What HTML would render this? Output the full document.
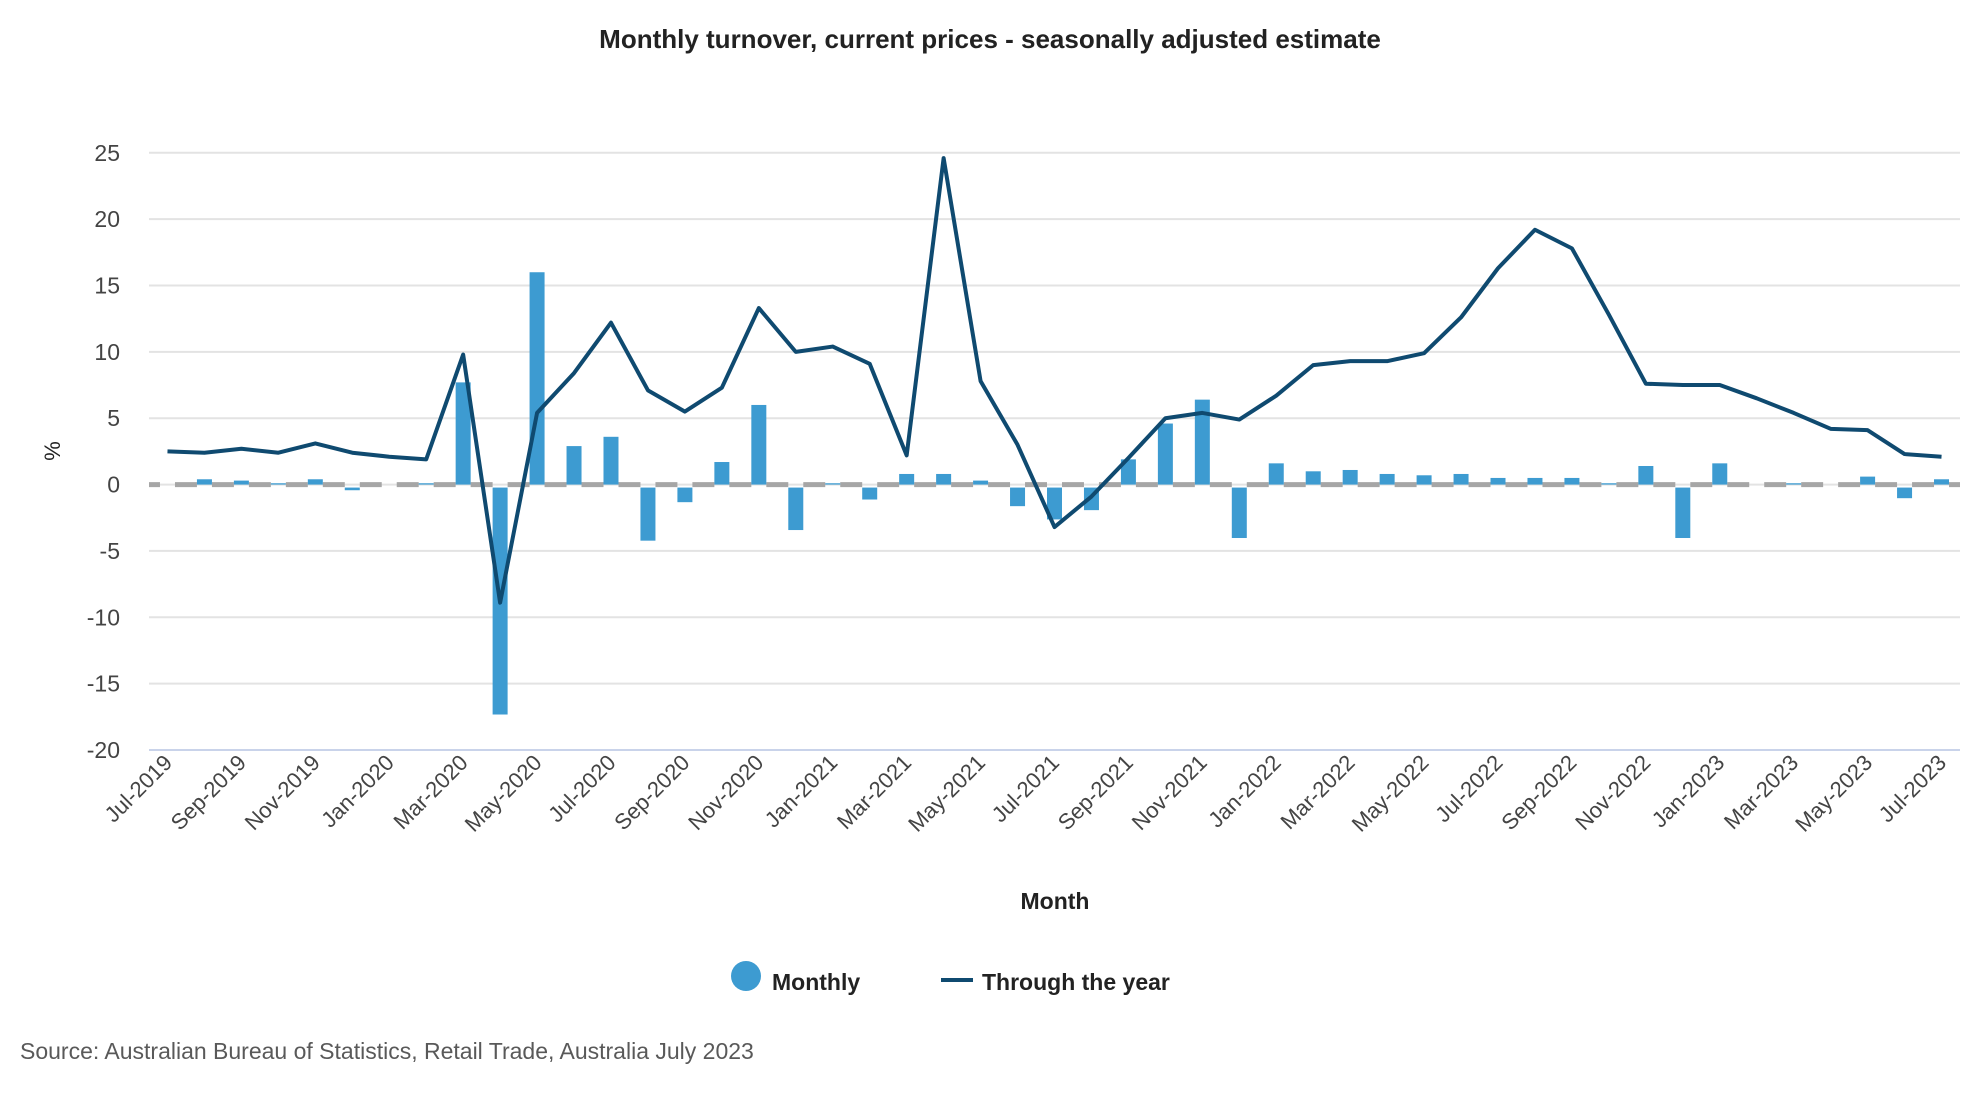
<!DOCTYPE html>
<html><head><meta charset="utf-8"><style>
html,body{margin:0;padding:0;background:#fff;width:1980px;height:1100px;overflow:hidden;font-family:"Liberation Sans",sans-serif;}
</style></head><body>
<svg id="chart" width="1980" height="1100" xmlns="http://www.w3.org/2000/svg" font-family="Liberation Sans, sans-serif">
<text x="990" y="48" text-anchor="middle" font-size="26" font-weight="bold" fill="#222">Monthly turnover, current prices - seasonally adjusted estimate</text>
<g id="grid"></g><g id="yticks"></g><g id="xticks"></g><g id="bars"></g><g id="line"></g>
<text transform="translate(60,451) rotate(-90)" text-anchor="middle" font-size="22" fill="#222">%</text>
<text x="1055" y="909" text-anchor="middle" font-size="23" font-weight="bold" fill="#222">Month</text>
<g>
<circle cx="746" cy="976" r="15" fill="#3d9bd1"/>
<text x="772" y="990" font-size="23" font-weight="bold" fill="#222">Monthly</text>
<line x1="941" y1="980" x2="973" y2="980" stroke="#0f4a70" stroke-width="4"/>
<text x="982" y="990" font-size="23" font-weight="bold" fill="#222">Through the year</text>
</g>
<text x="20" y="1059" font-size="23" fill="#595959">Source: Australian Bureau of Statistics, Retail Trade, Australia July 2023</text>
</svg>
<script>
const months = ["Jul-2019","Aug-2019","Sep-2019","Oct-2019","Nov-2019","Dec-2019","Jan-2020","Feb-2020","Mar-2020","Apr-2020","May-2020","Jun-2020","Jul-2020","Aug-2020","Sep-2020","Oct-2020","Nov-2020","Dec-2020","Jan-2021","Feb-2021","Mar-2021","Apr-2021","May-2021","Jun-2021","Jul-2021","Aug-2021","Sep-2021","Oct-2021","Nov-2021","Dec-2021","Jan-2022","Feb-2022","Mar-2022","Apr-2022","May-2022","Jun-2022","Jul-2022","Aug-2022","Sep-2022","Oct-2022","Nov-2022","Dec-2022","Jan-2023","Feb-2023","Mar-2023","Apr-2023","May-2023","Jun-2023","Jul-2023"];
const monthly = [0,0.4,0.3,0.1,0.4,-0.2,0,0.1,7.7,-17.1,16.0,2.9,3.6,-4.0,-1.1,1.7,6.0,-3.2,0.1,-0.9,0.8,0.8,0.3,-1.4,-2.4,-1.7,1.9,4.6,6.4,-3.8,1.6,1.0,1.1,0.8,0.7,0.8,0.5,0.5,0.5,0.1,1.4,-3.8,1.6,0,0.1,0,0.6,-0.8,0.4];
const throughYear = [2.5,2.4,2.7,2.4,3.1,2.4,2.1,1.9,9.8,-8.9,5.4,8.4,12.2,7.1,5.5,7.3,13.3,10.0,10.4,9.1,2.2,24.6,7.8,3.0,-3.2,-0.9,2.0,5.0,5.4,4.9,6.7,9.0,9.3,9.3,9.9,12.6,16.3,19.2,17.8,12.8,7.6,7.5,7.5,6.5,5.4,4.2,4.1,2.3,2.1];
const yTicks = [25,20,15,10,5,0,-5,-10,-15,-20];

const NS="http://www.w3.org/2000/svg";
const L=149,R=1960,T=152.8,B=750,ymax=25,ymin=-20;
const band=(R-L)/months.length;
const xs=i=>L+band*(i+0.5);
const ys=v=>T+(ymax-v)/(ymax-ymin)*(B-T);
function mk(tag,attrs,parent){const e=document.createElementNS(NS,tag);for(const k in attrs)e.setAttribute(k,attrs[k]);parent.appendChild(e);return e;}
const grid=document.getElementById('grid'),yt=document.getElementById('yticks'),xt=document.getElementById('xticks'),bars=document.getElementById('bars'),line=document.getElementById('line');
yTicks.forEach(v=>{
  const g=mk('line',{x1:L,x2:R,y1:ys(v),y2:ys(v),stroke:v===ymin?'#c9d3ea':'#e3e3e3','stroke-width':2},grid);
  
  
  const t=mk('text',{x:120,y:ys(v)+8,'text-anchor':'end','font-size':23,fill:'#444'},yt);
  t.textContent=v;
  
  
});
const z=mk('line',{x1:L,x2:R,y1:ys(0),y2:ys(0),stroke:'#a6a6a6','stroke-width':5,'stroke-dasharray':(band-15)+' 15','stroke-dashoffset':-(band/2+7.5)},grid);


months.forEach((m,i)=>{
  if(i%2===0){
    const t=mk('text',{transform:`translate(${xs(i)+6},${B+14}) rotate(-45)`,'text-anchor':'end','font-size':22,fill:'#444'},xt);
    t.textContent=m;
    
    
  }
  const v=monthly[i];
  const y0=ys(0),y1=ys(v);
  const r=mk('rect',{x:xs(i)-7.5,y:Math.min(y0,y1)+(v<0?3:0),width:15,height:Math.abs(y1-y0),fill:'#3d9bd1'},bars);
  
  
});
const p=mk('polyline',{points:throughYear.map((v,i)=>xs(i)+','+ys(v)).join(' '),fill:'none',stroke:'#0f4a70','stroke-width':4,'stroke-linejoin':'round'},line);


</script>
</body></html>
